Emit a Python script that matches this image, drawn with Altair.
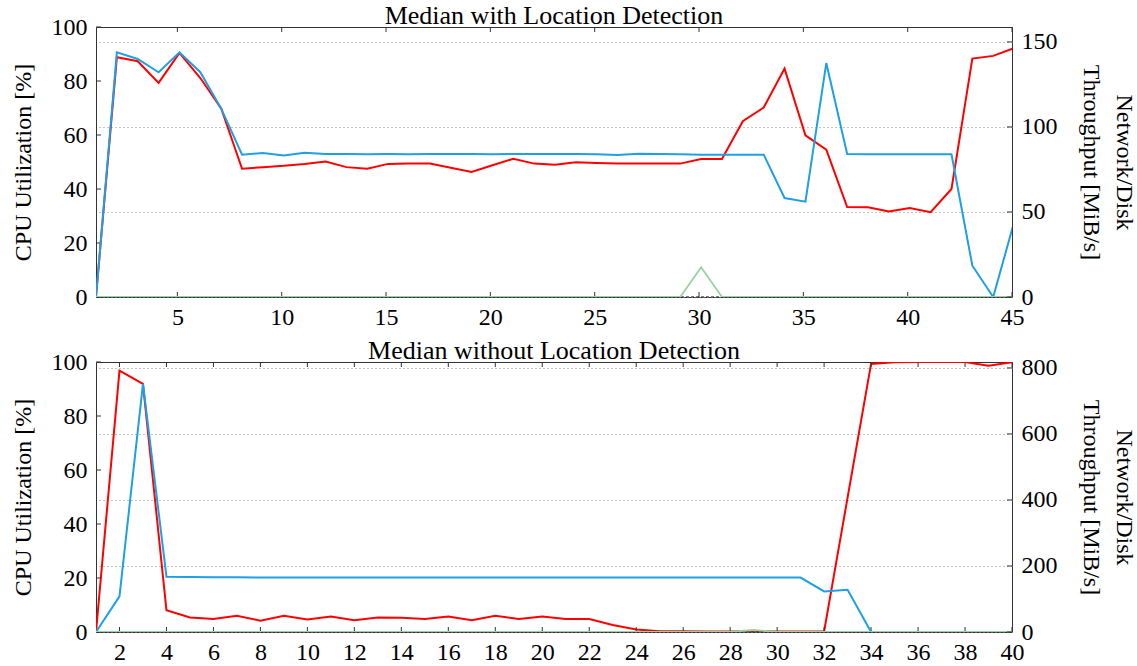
import altair as alt
import pandas as pd

FONT = "Liberation Serif"
RED = "#ff0000"
BLUE = "#1e9fe6"
GREEN = "#95d3a2"
FRAME = "#333333"
W, H = 916, 270

# ---- run with location detection (sampled roughly once per second) ----
top_time = [round(1.1 + i, 1) for i in range(45)]
top_cpu = [0.0, 88.8, 87.3, 79.3, 90.4, 81.1, 69.8, 47.5, 48.1, 48.6,
           49.3, 50.2, 48.1, 47.5, 49.3, 49.4, 49.4, 47.9, 46.3, 48.8,
           51.2, 49.4, 49.0, 49.9, 49.6, 49.4, 49.4, 49.4, 49.4, 51.1,
           51.1, 65.1, 70.2, 84.6, 59.9, 54.6, 33.3, 33.2, 31.7, 33.0,
           31.4, 40.0, 88.3, 89.3, 92.2]
top_net = [0.0, 143.9, 140.0, 132.2, 143.9, 132.2, 110.8, 83.7, 84.7, 83.3,
           84.9, 84.1, 84.1, 84.0, 84.1, 84.0, 84.1, 84.1, 84.1, 84.0,
           84.1, 84.1, 84.1, 84.1, 84.0, 83.5, 84.3, 84.1, 83.9, 83.7,
           83.7, 83.7, 83.7, 58.2, 56.1, 137.6, 84.1, 83.9, 84.0, 84.0,
           84.0, 83.9, 18.4, 0.0, 44.0]
top_disk_write = [0.0] * 29 + [17.5] + [0.0] * 15
top_disk_read = [0.0] * 45

# ---- run without location detection ----
bot_time = list(range(1, 41))
bot_cpu = [0.0, 96.8, 91.9, 8.1, 5.4, 4.8, 6.0, 4.2, 6.0, 4.6,
           5.7, 4.4, 5.4, 5.3, 4.8, 5.7, 4.4, 6.0, 4.8, 5.7,
           4.8, 4.8, 2.6, 0.9, 0.3, 0.3, 0.2, 0.2, 0.3, 0.2,
           0.2, 0.2, 49.8, 99.3, 99.9, 100.0, 100.0, 100.0, 98.6, 99.9]
bot_net = [0.0, 108.0, 751.5, 167.7, 166.5, 166.0, 165.5, 165.2, 165.0, 165.0,
           165.0, 165.0, 165.0, 165.0, 165.0, 165.0, 165.0, 165.0, 165.0, 165.0,
           165.0, 165.0, 165.0, 165.0, 165.0, 165.0, 165.0, 165.0, 165.0, 165.0,
           165.0, 123.0, 128.0, 0.0, 0.0, 0.0, 0.0, 0.0, 0.0, 0.0]
bot_disk_write = [0.0] * 28 + [6.0] + [0.0] * 11
bot_disk_read = [0.0] * 40

cpu_ticks = [0, 20, 40, 60, 80, 100]


def panel(title, t, cpu, net, dwrite, dread, x_domain, x_ticks, net_max, net_ticks):
    df = pd.DataFrame({"t": t, "cpu": cpu, "net": net, "dw": dwrite, "dr": dread})
    xt = pd.DataFrame({"t": x_ticks})
    ct = pd.DataFrame({"cpu": cpu_ticks})
    nt = pd.DataFrame({"net": net_ticks})

    x_scale = alt.Scale(domain=x_domain, nice=False, zero=False)
    cpu_scale = alt.Scale(domain=[0, 100], nice=False)
    net_scale = alt.Scale(domain=[0, net_max], nice=False)
    x_axis = alt.Axis(values=x_ticks, title=None, tickSize=0, domain=False, grid=False,
                      labelPadding=8, labelFlush=False, labelOverlap=False)
    cpu_axis = alt.Axis(values=cpu_ticks, title="CPU Utilization [%]", tickSize=0,
                        domain=False, grid=False, labelPadding=9, titlePadding=16,
                        labelFlush=False, labelOverlap=False)
    net_axis = alt.Axis(orient="right", values=net_ticks,
                        title=["Network/Disk", "Throughput [MiB/s]"],
                        grid=True, gridDash=[1, 3], gridColor="#8c8c8c", gridWidth=1,
                        tickSize=0, domain=False, labelPadding=9, titlePadding=21,
                        titleLineHeight=33, labelFlush=False, labelOverlap=False)

    x_enc = alt.X("t:Q", scale=x_scale, axis=x_axis)
    y_cpu = alt.Y("cpu:Q", scale=cpu_scale, axis=cpu_axis)

    base = alt.Chart(df)

    cpu_line = base.mark_line(color=RED, strokeWidth=2, clip=True).encode(x=x_enc, y=y_cpu)
    x_ticks_bottom = alt.Chart(xt).mark_rule(color=FRAME, strokeWidth=1).encode(
        x=x_enc, y=alt.value(H), y2=alt.value(H - 5))
    x_ticks_top = alt.Chart(xt).mark_rule(color=FRAME, strokeWidth=1).encode(
        x=x_enc, y=alt.value(0), y2=alt.value(5))
    cpu_tick_marks = alt.Chart(ct).mark_rule(color=FRAME, strokeWidth=1).encode(
        y=y_cpu, x=alt.value(0), x2=alt.value(5))
    left = alt.layer(cpu_line, cpu_tick_marks, x_ticks_bottom, x_ticks_top)

    def y_net(field):
        return alt.Y(f"{field}:Q", scale=net_scale, axis=net_axis)

    read_line = base.mark_line(color="black", strokeWidth=1, strokeDash=[3, 2], clip=True).encode(
        x=x_enc, y=y_net("dr"))
    net_line = base.mark_line(color=BLUE, strokeWidth=2, clip=True).encode(
        x=x_enc, y=y_net("net"))
    write_line = base.mark_line(color=GREEN, strokeWidth=1.8, clip=True).encode(
        x=x_enc, y=y_net("dw"))
    net_tick_marks = alt.Chart(nt).mark_rule(color=FRAME, strokeWidth=1).encode(
        y=y_net("net"), x=alt.value(W - 5), x2=alt.value(W))
    right = alt.layer(read_line, net_line, write_line, net_tick_marks)

    return alt.layer(left, right).resolve_scale(y="independent").properties(
        width=W, height=H,
        title=alt.TitleParams(title, font=FONT, fontSize=26, fontWeight="normal",
                              color="black", offset=-14, anchor="middle", frame="group"),
    )


top = panel("Median with Location Detection", top_time, top_cpu, top_net,
            top_disk_write, top_disk_read, [1.1, 45], list(range(5, 46, 5)),
            158.8, [0, 50, 100, 150])
bottom = panel("Median without Location Detection", bot_time, bot_cpu, bot_net,
               bot_disk_write, bot_disk_read, [1, 40], list(range(2, 41, 2)),
               818, [0, 200, 400, 600, 800])

chart = alt.vconcat(top, bottom, spacing=7).properties(
    padding={"left": 10, "top": 2, "right": 0, "bottom": 0},
    background="white",
).configure_view(
    stroke=FRAME, strokeWidth=1
).configure_axis(
    labelFont=FONT, labelFontSize=24, labelColor="black",
    titleFont=FONT, titleFontSize=24, titleFontWeight="normal", titleColor="black",
)

chart.save("out.html", embed_options={"renderer": "svg", "actions": False})
